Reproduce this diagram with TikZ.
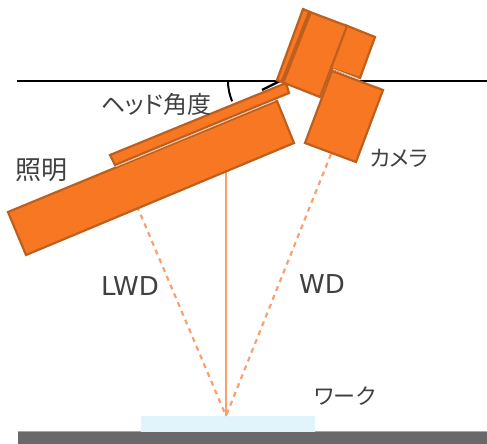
\documentclass[tikz,border=0pt]{standalone}
\usepackage{fontspec}
\setmainfont{DejaVu Sans}
\newfontfamily\cjk[RawFeature=+palt]{Noto Sans CJK JP}
\definecolor{bodyor}{HTML}{F77723}
\definecolor{edgeor}{HTML}{BE5F1E}
\definecolor{beam}{HTML}{F8A070}
\definecolor{txt}{HTML}{404040}
\definecolor{workblue}{HTML}{E1F4FC}
\definecolor{groundgray}{HTML}{696969}
\definecolor{gapline}{HTML}{F0C8A8}
\tikzset{
  part/.style={fill=bodyor,draw=edgeor,line width=2.2pt,line join=miter},
  beamsolid/.style={draw=beam,line width=2.8pt},
  beamdash/.style={draw=beam,line width=2.2pt,dash pattern=on 5pt off 4.5pt},
  cjklabel/.style={text=txt,font=\cjk\fontsize{24}{28}\selectfont,inner sep=0pt},
  latinlabel/.style={text=txt,font=\fontsize{26}{30}\selectfont,inner sep=0pt},
}
\begin{document}
\begin{tikzpicture}[x=1pt,y=-1pt]
\useasboundingbox (0,0) rectangle (487,444);
% work and ground
\fill[groundgray] (18,431.5) rectangle (487,444);
\draw[gray!70,line width=0.8pt] (18,431.5) -- (487,431.5);
\fill[workblue] (141,415.5) rectangle (315,432);
% horizon and angle
\draw[black,line width=1.4pt] (17,81) -- (487,81);
\draw[black,line width=2.4pt] (228,81) -- (280,81);
\coordinate (apex) at (280,81);
\draw[black,line width=2pt] (228,81) arc[start angle=180,end angle=157,radius=52];
\draw[black,line width=2.4pt] (apex) -- (262,90);
% beams
\coordinate (focus) at (226,416);
\coordinate (lightAxis) at (226,170);
\coordinate (lightEdge) at (137,206);
\coordinate (camEdge) at (331,154);
\draw[beamsolid] (lightAxis) -- (focus);
\draw[beamdash] (lightEdge) -- (focus);
\draw[beamdash] (camEdge) -- (focus);
% illumination
\draw[part] (110,155) -- (286,83) -- (289,93) -- (115,165) -- cycle;
\draw[part] (8,212) -- (277,101) -- (294,143) -- (26,255) -- cycle;
\draw[gapline,line width=0.9pt] (116,166.5) -- (275,100.5);
% head camera
\draw[part] (345,25) -- (375,37) -- (360,78) -- (330,68) -- cycle;
\draw[part] (303,9) -- (310,12) -- (282,82) -- (277,80) -- cycle;
\draw[part] (310,12) -- (347,26) -- (320,97) -- (282,82) -- cycle;
\draw[edgeor,line width=4pt] (310,12) -- (283,81);
\draw[part] (332,71) -- (383,90) -- (356,162) -- (305,143) -- cycle;
\draw[gapline,line width=0.9pt] (333,69) -- (358,78.5);
% labels
\node[cjklabel] (head) at (156,104) {ヘッド角度};
\node[cjklabel,font=\cjk\fontsize{26}{30}\selectfont] (light) at (42,170) {照明};
\node[cjklabel,font=\cjk\fontsize{22}{26}\selectfont] (cam) at (399,158) {カメラ};
\node[cjklabel,font=\cjk\fontsize{22}{26}\selectfont] (work) at (345,396) {ワーク};
\node[latinlabel] (lwd) at (130,286) {LWD};
\node[latinlabel] (wd) at (322,284) {WD};
\end{tikzpicture}
\end{document}
